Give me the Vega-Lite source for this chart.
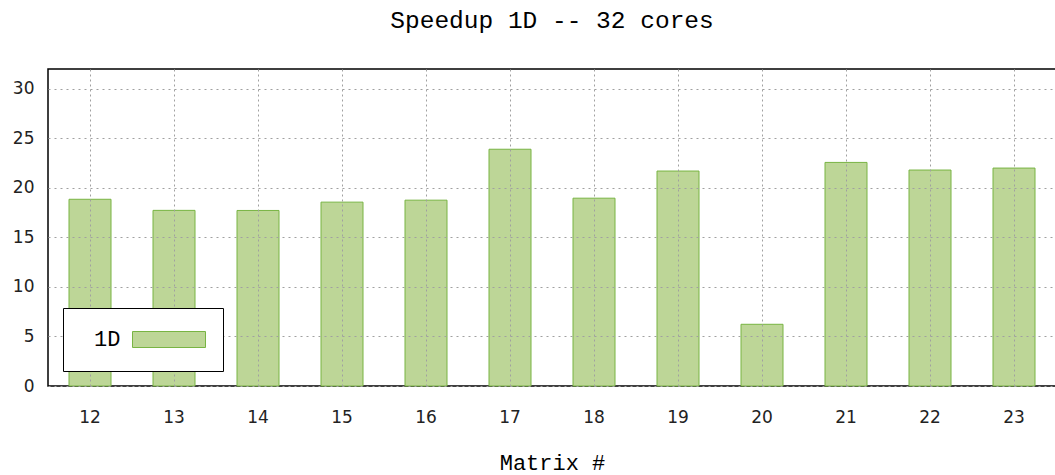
{
  "$schema": "https://vega.github.io/schema/vega-lite/v6.json",
  "width": 1008,
  "height": 317,
  "autosize": {"type": "none"},
  "padding": {"left": 48, "top": 69, "right": 0, "bottom": 89},
  "background": "white",
  "title": {
    "text": "Speedup 1D -- 32 cores",
    "font": "Liberation Mono",
    "fontSize": 24.5,
    "fontWeight": "normal",
    "color": "#000000",
    "anchor": "middle",
    "offset": 36
  },
  "data": {
    "values": [
      {"matrix": "12", "speedup": 18.85, "series": "1D"},
      {"matrix": "13", "speedup": 17.73, "series": "1D"},
      {"matrix": "14", "speedup": 17.72, "series": "1D"},
      {"matrix": "15", "speedup": 18.56, "series": "1D"},
      {"matrix": "16", "speedup": 18.76, "series": "1D"},
      {"matrix": "17", "speedup": 23.9, "series": "1D"},
      {"matrix": "18", "speedup": 18.96, "series": "1D"},
      {"matrix": "19", "speedup": 21.7, "series": "1D"},
      {"matrix": "20", "speedup": 6.23, "series": "1D"},
      {"matrix": "21", "speedup": 22.57, "series": "1D"},
      {"matrix": "22", "speedup": 21.8, "series": "1D"},
      {"matrix": "23", "speedup": 22.0, "series": "1D"}
    ]
  },
  "mark": {"type": "bar", "stroke": "#78b443", "strokeWidth": 1, "fillOpacity": 1},
  "encoding": {
    "x": {
      "field": "matrix",
      "type": "ordinal",
      "scale": {"paddingInner": 0.5, "paddingOuter": 0.25},
      "axis": {
        "title": "Matrix #",
        "titleFont": "Liberation Mono",
        "titleFontSize": 22,
        "titleFontWeight": "normal",
        "titleColor": "#000000",
        "titlePadding": 27,
        "labelAngle": 0,
        "labelFont": "DejaVu Sans",
        "labelFontSize": 17,
        "labelColor": "#222222",
        "labelPadding": 23,
        "ticks": false,
        "domain": false,
        "grid": true,
        "zindex": 1,
        "bandPosition": 0.5,
        "gridColor": "#a0a0a0",
        "gridDash": [2, 3],
        "gridWidth": 1
      }
    },
    "y": {
      "field": "speedup",
      "type": "quantitative",
      "scale": {"domain": [0, 32], "nice": false},
      "axis": {
        "title": null,
        "values": [0, 5, 10, 15, 20, 25, 30],
        "labelFont": "DejaVu Sans",
        "labelFontSize": 17,
        "labelColor": "#222222",
        "labelPadding": 14,
        "ticks": false,
        "domain": false,
        "grid": true,
        "zindex": 1,
        "gridColor": "#a0a0a0",
        "gridDash": [2, 4],
        "gridWidth": 1
      }
    },
    "color": {
      "field": "series",
      "type": "nominal",
      "scale": {"range": ["#bdd697"]},
      "legend": {
        "orient": "none",
        "legendX": 15,
        "legendY": 239,
        "zindex": 2,
        "title": "\u28001D",
        "titleOrient": "left",
        "titleAnchor": "middle",
        "titleFont": "Liberation Mono",
        "titleFontSize": 22,
        "titleFontWeight": "normal",
        "titleColor": "#000000",
        "titlePadding": 11,
        "labelExpr": "''",
        "labelOffset": 0,
        "symbolType": "M-1,-0.9 M-1,-0.5 L3.5625,-0.5 L3.5625,0.5 L-1,0.5 Z M-1,0.9",
        "symbolSize": 1024,
        "symbolStrokeColor": "#78b443",
        "symbolStrokeWidth": 1,
        "symbolOpacity": 1,
        "strokeColor": "#000000",
        "fillColor": "#ffffff",
        "padding": 15
      }
    }
  },
  "config": {
    "view": {"stroke": "#000000", "strokeWidth": 1.5}
  }
}
